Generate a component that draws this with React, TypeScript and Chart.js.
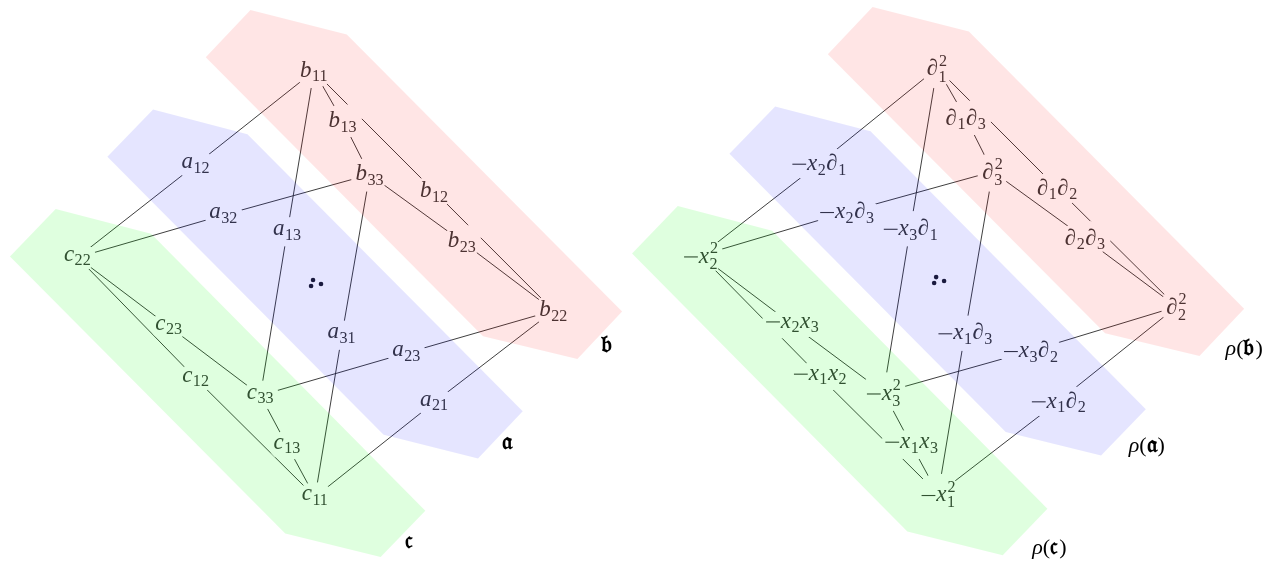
import React, { useEffect, useRef } from 'react';
import { Chart, registerables } from 'chart.js';

Chart.register(...registerables);

const W = 1279;
const H = 568;

// ---- node data (label ink centers) ----
const leftNodeLabels = ['b_{11}', 'b_{13}', 'b_{33}', 'b_{12}', 'b_{23}', 'b_{22}', 'a_{12}', 'a_{32}', 'a_{13}', 'a_{31}', 'a_{23}', 'a_{21}', 'c_{22}', 'c_{23}', 'c_{12}', 'c_{33}', 'c_{13}', 'c_{11}'];
const leftNodeX = [312, 341, 368, 433, 461, 553, 193, 221, 285, 340, 405, 433, 74, 166, 193, 258, 285, 313];
const leftNodeY = [68, 119, 173, 190, 241, 311, 163, 214, 231, 336, 354, 404, 257, 327, 380, 397, 448, 500];

const rightNodeLabels = ['∂_1^2', '∂_1∂_3', '∂_3^2', '∂_1∂_2', '∂_2∂_3', '∂_2^2', '−x_2∂_1', '−x_2∂_3', '−x_3∂_1', '−x_1∂_3', '−x_3∂_2', '−x_1∂_2', '−x_2^2', '−x_2x_3', '−x_1x_2', '−x_3^2', '−x_1x_3', '−x_1^2'];
const rightNodeX = [939, 968, 995, 1060, 1088, 1180, 820, 848, 912, 967, 1033, 1061, 701, 793, 821, 885, 913, 940];
const rightNodeY = [65, 116, 170, 187, 238, 307, 162, 211, 228, 334, 352, 403, 255, 325, 378, 394, 447, 497];

// ---- edges (same topology in both diagrams) ----
const edgeFrom = [0, 6, 0, 8, 0, 0, 1, 3, 2, 4, 2, 7, 2, 9, 5, 10, 5, 11, 12, 13, 12, 14, 15, 16];
const edgeTo = [6, 12, 8, 15, 1, 3, 2, 5, 4, 5, 7, 12, 9, 17, 10, 15, 11, 17, 13, 15, 14, 17, 16, 17];

// ---- shaded regions (polygon vertices) ----
const pinkLeftX = [203, 248, 345, 622, 577, 482];
const pinkLeftY = [54, 6, 31, 312, 360, 337];
const blueLeftX = [104, 150, 245, 522, 477, 382];
const blueLeftY = [155, 107, 132, 413, 461, 437];
const greenLeftX = [6, 52, 148, 424, 379, 283];
const greenLeftY = [256, 208, 233, 514, 561, 537];

const pinkRightX = [829, 874, 971, 1248, 1203, 1108];
const pinkRightY = [51, 3, 28, 309, 357, 334];
const blueRightX = [730, 776, 872, 1149, 1104, 1008];
const blueRightY = [152, 104, 129, 411, 458, 434];
const greenRightX = [632, 678, 773, 1050, 1005, 909];
const greenRightY = [253, 205, 230, 512, 559, 535];

// ---- the "∴"-like dots ----
const dotsLeftX = [311, 309, 319];
const dotsLeftY = [280, 286, 284];
const dotsRightX = [938, 936, 946];
const dotsRightY = [277, 283, 281];

// ---- region names ----
const regionLabels = ['𝔟', '𝔞', '𝔠', 'ρ(𝔟)', 'ρ(𝔞)', 'ρ(𝔠)'];
const regionX = [607, 507, 408, 1248, 1150, 1052];
const regionY = [345, 445, 546, 350, 449, 553];

const FAMILY = "'Liberation Serif', 'DejaVu Serif', 'DejaVu Sans', serif";
const FS = 23;

type Seg = { t: string; size: number; italic: boolean; bold: boolean; x: number; y: number; rule?: number };

function fontOf(size: number, italic: boolean, bold = false) {
  return `${italic ? 'italic ' : ''}${bold ? 'bold ' : ''}${size}px ${FAMILY}`;
}

function isFraktur(c: string) {
  const cp = c.codePointAt(0) || 0;
  return cp >= 0x1d500 && cp <= 0x1d5ff;
}

function layoutLabel(ctx: CanvasRenderingContext2D, label: string, fs: number) {
  const chars = Array.from(label);
  const segs: Seg[] = [];
  let x = 0;
  let i = 0;
  const subSize = fs * 0.7;
  const readGroup = (): string => {
    if (chars[i] === '{') {
      i++;
      let s = '';
      while (i < chars.length && chars[i] !== '}') s += chars[i++];
      i++;
      return s;
    }
    return chars[i++] || '';
  };
  while (i < chars.length) {
    const c = chars[i++];
    const italic = /[a-zA-Zρ∂]/.test(c);
    const bold = isFraktur(c);
    const size = bold ? fs * 1.1 : fs;
    ctx.font = fontOf(size, italic, bold);
    const w = ctx.measureText(c).width;
    if (c === '−') {
      segs.push({ t: '', size: fs, italic: false, bold: false, x: x + fs * 0.06, y: -fs * 0.25, rule: fs * 0.6 });
      x += fs * 0.7;
    } else {
      segs.push({ t: c, size, italic, bold, x, y: 0 });
      x += w + (italic && c !== 'ρ' ? 0.5 : 0) + (bold ? 1 : 0);
    }
    let sub = '';
    let sup = '';
    while (chars[i] === '_' || chars[i] === '^') {
      const k = chars[i++];
      const g = readGroup();
      if (k === '_') sub = g; else sup = g;
    }
    if (sub || sup) {
      ctx.font = fontOf(subSize, false);
      const both = !!(sub && sup);
      let mw = 0;
      if (sub) {
        segs.push({ t: sub, size: subSize, italic: false, bold: false, x, y: fs * (both ? 0.27 : 0.2) });
        mw = Math.max(mw, ctx.measureText(sub).width);
      }
      if (sup) {
        segs.push({ t: sup, size: subSize, italic: false, bold: false, x: x + (both ? 0.5 : 0), y: -fs * 0.42 });
        mw = Math.max(mw, ctx.measureText(sup).width + (both ? 0.5 : 0));
      }
      x += mw + 0.5;
    }
  }
  let top = Infinity;
  let bottom = -Infinity;
  for (const s of segs) {
    if (s.rule) continue;
    ctx.font = fontOf(s.size, s.italic, s.bold);
    const m = ctx.measureText(s.t);
    top = Math.min(top, s.y - m.actualBoundingBoxAscent);
    bottom = Math.max(bottom, s.y + m.actualBoundingBoxDescent);
  }
  return { segs, width: x, top, bottom };
}

function drawLayout(ctx: CanvasRenderingContext2D, L: ReturnType<typeof layoutLabel>, cx: number, cy: number) {
  const left = cx - L.width / 2;
  const base = cy - (L.top + L.bottom) / 2;
  for (const s of L.segs) {
    if (s.rule) {
      ctx.fillRect(left + s.x, base + s.y - 0.5, s.rule, 1.1);
      continue;
    }
    ctx.font = fontOf(s.size, s.italic, s.bold);
    ctx.fillText(s.t, left + s.x, base + s.y);
  }
}

const graphPlugin = {
  id: 'graphPlugin',
  beforeDatasetsDraw(chart: any) {
    const ctx: CanvasRenderingContext2D = chart.ctx;
    const xs = chart.scales.x;
    const ys = chart.scales.y;
    const groups = [
      { labels: leftNodeLabels, nx: leftNodeX, ny: leftNodeY },
      { labels: rightNodeLabels, nx: rightNodeX, ny: rightNodeY },
    ];
    ctx.save();
    ctx.textBaseline = 'alphabetic';
    ctx.textAlign = 'left';
    for (const g of groups) {
      const px = g.nx.map((v) => xs.getPixelForValue(v));
      const py = g.ny.map((v) => ys.getPixelForValue(v));
      ctx.strokeStyle = '#1c1c1c';
      ctx.lineWidth = 0.85;
      ctx.beginPath();
      for (let e = 0; e < edgeFrom.length; e++) {
        ctx.moveTo(px[edgeFrom[e]], py[edgeFrom[e]]);
        ctx.lineTo(px[edgeTo[e]], py[edgeTo[e]]);
      }
      ctx.stroke();
      const lays = g.labels.map((l) => layoutLabel(ctx, l, FS));
      ctx.fillStyle = '#ffffff';
      lays.forEach((L, k) => {
        const a = L.width / 2 + 5;
        const b = (L.bottom - L.top) / 2 + 7;
        ctx.beginPath();
        ctx.ellipse(px[k], py[k], a, b, 0, 0, Math.PI * 2);
        ctx.fill();
      });
      ctx.fillStyle = '#383838';
      lays.forEach((L, k) => drawLayout(ctx, L, px[k], py[k]));
    }
    ctx.fillStyle = '#000000';
    regionLabels.forEach((l, k) => {
      const L = layoutLabel(ctx, l, 22);
      drawLayout(ctx, L, xs.getPixelForValue(regionX[k]), ys.getPixelForValue(regionY[k]));
    });
    ctx.restore();
  },
};

function poly(xs: number[], ys: number[]) {
  const p = xs.map((x, i) => ({ x, y: ys[i] }));
  p.push({ x: xs[0], y: ys[0] });
  return p;
}

function pts(xs: number[], ys: number[]) {
  return xs.map((x, i) => ({ x, y: ys[i] }));
}

function region(data: { x: number; y: number }[], color: string) {
  return {
    data,
    fill: 'shape',
    backgroundColor: color,
    borderColor: 'rgba(0,0,0,0)',
    borderWidth: 0,
    pointRadius: 0,
    tension: 0,
    showLine: true,
  };
}

function dots(data: { x: number; y: number }[]) {
  return {
    data,
    showLine: false,
    pointRadius: 2.3,
    pointBorderWidth: 0,
    pointBackgroundColor: '#1e1e2a',
    borderColor: 'rgba(0,0,0,0)',
    fill: false,
  };
}

export default function App() {
  const ref = useRef<HTMLCanvasElement>(null);
  useEffect(() => {
    document.body.style.margin = '0';
    const canvas = ref.current!;
    const chart = new Chart(canvas, {
      type: 'line',
      data: {
        datasets: [
          region(poly(pinkLeftX, pinkLeftY), 'rgba(255,0,0,0.1)'),
          region(poly(blueLeftX, blueLeftY), 'rgba(0,0,255,0.1)'),
          region(poly(greenLeftX, greenLeftY), 'rgba(0,255,0,0.125)'),
          region(poly(pinkRightX, pinkRightY), 'rgba(255,0,0,0.1)'),
          region(poly(blueRightX, blueRightY), 'rgba(0,0,255,0.1)'),
          region(poly(greenRightX, greenRightY), 'rgba(0,255,0,0.125)'),
          dots(pts(dotsLeftX, dotsLeftY)),
          dots(pts(dotsRightX, dotsRightY)),
        ] as any,
      },
      options: {
        responsive: false,
        animation: false,
        events: [],
        layout: { padding: 0 },
        scales: {
          x: { type: 'linear', min: 0, max: W, display: false },
          y: { type: 'linear', min: 0, max: H, reverse: true, display: false },
        },
        plugins: {
          legend: { display: false },
          tooltip: { enabled: false },
        },
      } as any,
      plugins: [graphPlugin],
    });
    return () => chart.destroy();
  }, []);
  return <canvas ref={ref} width={W} height={H} style={{ display: 'block' }} />;
}
